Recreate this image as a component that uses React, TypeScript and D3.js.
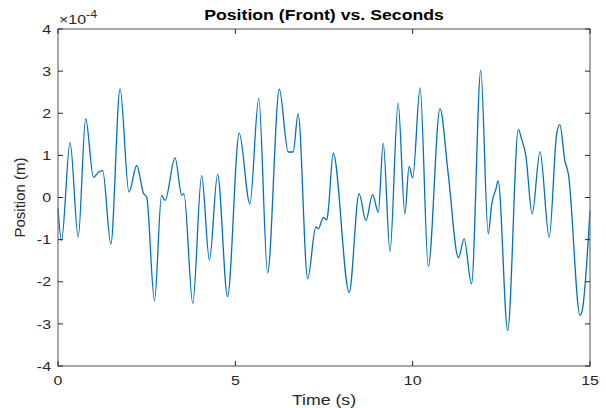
import React from "react";
import * as d3 from "d3";

// Time samples (s) at the turning points and shoulders of the trace
const times = [
  0.0, 0.1, 0.34, 0.57, 0.78, 1.0, 1.14, 1.26, 1.49, 1.75, 2.0, 2.22, 2.41, 2.5,
  2.72, 2.92, 3.02, 3.3, 3.49, 3.55, 3.8, 4.05, 4.27, 4.5, 4.78, 5.11, 5.41,
  5.66, 5.91, 6.24, 6.49, 6.63, 6.77, 7.04, 7.27, 7.34, 7.48, 7.58, 7.62, 7.76,
  8.21, 8.49, 8.68, 8.87, 9.03, 9.17, 9.36, 9.59, 9.78, 9.9, 10.0, 10.21, 10.44,
  10.77, 11.0, 11.29, 11.45, 11.66, 11.92, 12.13, 12.23, 12.35, 12.41, 12.68,
  12.98, 13.07, 13.19, 13.37, 13.59, 13.85, 14.06, 14.15, 14.29, 14.39, 14.72,
  14.79, 15.0,
];

// Position values in units of 1e-4 m
const positions = [
  -0.26, -1.02, 1.31, -0.94, 1.87, 0.48, 0.6, 0.64, -1.1, 2.58, 0.13, 0.76, 0.1,
  0.01, -2.45, 0.05, -0.07, 0.94, 0.05, 0.09, -2.51, 0.52, -1.48, 0.55, -2.35,
  1.53, -0.15, 2.36, -1.79, 2.57, 1.08, 1.08, 1.99, -1.93, -0.7, -0.74, -0.48,
  -0.53, -0.31, 1.05, -2.25, 0.09, -0.55, 0.07, -0.35, 1.29, -1.28, 2.24, -0.39,
  0.74, 0.47, 2.6, -1.64, 2.11, 0.58, -1.43, -0.98, -2.05, 3.02, -0.86, -0.15,
  0.21, 0.4, -3.16, 1.61, 1.39, 1.0, -0.39, 1.09, -0.94, 1.51, 1.73, 0.88, 0.56,
  -2.8, -2.64, -0.31,
];

const xTicks = [0, 5, 10, 15];
const yTicks = [-4, -3, -2, -1, 0, 1, 2, 3, 4];

const titleText = "Position (Front) vs. Seconds";
const xLabel = "Time (s)";
const yLabel = "Position (m)";

const W = 606;
const H = 408;
const M = { left: 58, right: 590, top: 29, bottom: 366 };
const FONT = "'Liberation Sans', Arial, Helvetica, sans-serif";
const AXIS = "#262626";
const BOX = "#707070";
// horizontal widening applied to horizontal text
const SX = 1.18;

function HText(props: {
  x: number;
  y: number;
  anchor?: "start" | "middle" | "end";
  size: number;
  weight?: string;
  fill?: string;
  children: React.ReactNode;
}) {
  const { x, y, anchor = "start", size, weight, fill = AXIS, children } = props;
  return (
    <text
      transform={`translate(${x},${y}) scale(${SX},1)`}
      textAnchor={anchor}
      fontSize={size}
      fontWeight={weight}
      fill={fill}
    >
      {children}
    </text>
  );
}

export default function App() {
  const x = d3.scaleLinear().domain([0, 15]).range([M.left, M.right]);
  const y = d3.scaleLinear().domain([-4, 4]).range([M.bottom, M.top]);

  const pts: [number, number][] = times.map((t, i) => [t, positions[i]]);
  const line = d3
    .line<[number, number]>()
    .x((d) => x(d[0]))
    .y((d) => y(d[1]))
    .curve(d3.curveMonotoneX);

  const tickLen = 5;

  return (
    <svg
      width={W}
      height={H}
      style={{ position: "absolute", left: 0, top: 0, background: "#fff" }}
      fontFamily={FONT}
    >
      <rect x={0} y={0} width={W} height={H} fill="#fff" />

      {/* data trace */}
      <path
        d={line(pts) ?? ""}
        fill="none"
        stroke="#0072BD"
        strokeWidth={1.3}
        strokeLinejoin="round"
      />

      {/* axes box */}
      <rect
        x={M.left}
        y={M.top}
        width={M.right - M.left}
        height={M.bottom - M.top}
        fill="none"
        stroke={BOX}
        strokeWidth={1.2}
      />

      {/* x ticks (bottom and top, inward) */}
      {xTicks.map((t) => (
        <g key={`x${t}`}>
          <line x1={x(t)} x2={x(t)} y1={M.bottom} y2={M.bottom - tickLen} stroke={AXIS} />
          <line x1={x(t)} x2={x(t)} y1={M.top} y2={M.top + tickLen} stroke={AXIS} />
          <HText x={x(t)} y={M.bottom + 19} anchor="middle" size={13.5}>
            {t}
          </HText>
        </g>
      ))}

      {/* y ticks (left and right, inward) */}
      {yTicks.map((v) => (
        <g key={`y${v}`}>
          <line x1={M.left} x2={M.left + tickLen} y1={y(v)} y2={y(v)} stroke={AXIS} />
          <line x1={M.right} x2={M.right - tickLen} y1={y(v)} y2={y(v)} stroke={AXIS} />
          <HText x={M.left - 7} y={y(v) + 4.7} anchor="end" size={13.5}>
            {v}
          </HText>
        </g>
      ))}

      {/* exponent multiplier */}
      <HText x={M.left + 1} y={24} size={13.5}>
        ×10
        <tspan fontSize={10.5} dy={-6}>
          -4
        </tspan>
      </HText>

      {/* title */}
      <HText
        x={(M.left + M.right) / 2}
        y={20}
        anchor="middle"
        size={15}
        weight="bold"
        fill="#000"
      >
        {titleText}
      </HText>

      {/* axis labels */}
      <HText x={(M.left + M.right) / 2} y={405} anchor="middle" size={15}>
        {xLabel}
      </HText>
      <text
        transform={`translate(25, ${(M.top + M.bottom) / 2}) rotate(-90)`}
        textAnchor="middle"
        fontSize={15}
        fill={AXIS}
      >
        {yLabel}
      </text>
    </svg>
  );
}
